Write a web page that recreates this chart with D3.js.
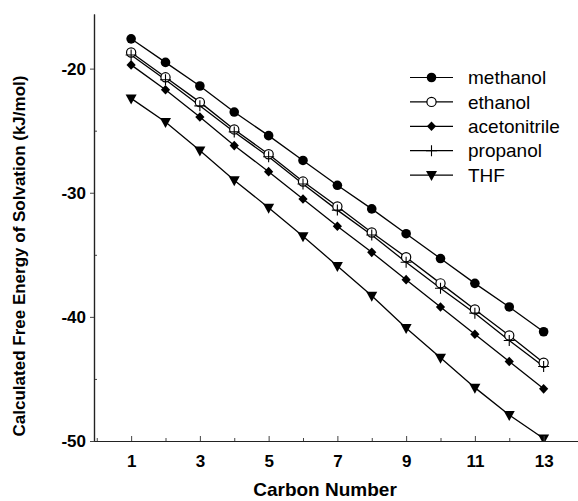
<!DOCTYPE html>
<html>
<head>
<meta charset="utf-8">
<script src="https://cdn.jsdelivr.net/npm/d3@7"></script>
<style>
  body { margin: 0; background: #fff; }
  svg { display: block; font-family: "Liberation Sans", Arial, sans-serif; }
</style>
</head>
<body>
<svg id="chart" width="578" height="501"></svg>
<script>
// carbon number on x
const carbons = [1, 2, 3, 4, 5, 6, 7, 8, 9, 10, 11, 12, 13];

// free energy of solvation (kJ/mol)
const methanol     = [-17.6, -19.5, -21.4, -23.5, -25.4, -27.4, -29.4, -31.3, -33.3, -35.3, -37.3, -39.2, -41.2];
const ethanol      = [-18.7, -20.7, -22.7, -24.9, -26.9, -29.1, -31.1, -33.2, -35.2, -37.3, -39.4, -41.5, -43.7];
const acetonitrile = [-19.7, -21.7, -23.9, -26.2, -28.3, -30.5, -32.7, -34.8, -37.0, -39.2, -41.4, -43.6, -45.8];
const propanol     = [-18.9, -20.9, -23.0, -25.1, -27.1, -29.3, -31.4, -33.4, -35.6, -37.7, -39.7, -41.9, -44.0];
const thf          = [-22.4, -24.3, -26.6, -29.0, -31.2, -33.5, -35.9, -38.3, -40.9, -43.3, -45.7, -47.9, -49.8];

const seriesNames = ['methanol', 'ethanol', 'acetonitrile', 'propanol', 'THF'];
const seriesValues = [methanol, ethanol, acetonitrile, propanol, thf];
const markerKinds = ['dot', 'ring', 'diamond', 'plus', 'tri'];

const xMajorTicks = [1, 3, 5, 7, 9, 11, 13];
const xMinorTicks = [0, 2, 4, 6, 8, 10, 12, 14];
const yMajorTicks = [-20, -30, -40, -50];
const yMinorTicks = [-25, -35, -45];

const svg = d3.select('#chart');

const margin = { left: 94, right: 0, top: 14, bottom: 60 };
const width = 578, height = 501;
const axisY = 441;

const x = d3.scaleLinear()
  .domain([-0.08, 14])
  .range([margin.left, width - margin.right]);

const y = d3.scaleLinear()
  .domain([-50, -15.6])
  .range([axisY, margin.top]);

svg.append('defs').append('clipPath').attr('id', 'plot-clip')
  .append('rect')
  .attr('x', margin.left).attr('y', 0)
  .attr('width', width - margin.left).attr('height', axisY);

// marker drawing
function marker(sel, kind) {
  if (kind === 'dot') {
    sel.append('circle').attr('r', 4.8).attr('fill', '#000');
  } else if (kind === 'ring') {
    sel.append('circle').attr('r', 4.6).attr('fill', '#fff')
      .attr('stroke', '#000').attr('stroke-width', 1.2);
  } else if (kind === 'diamond') {
    sel.append('path').attr('d', 'M0,-4.8L4.6,0L0,4.8L-4.6,0Z').attr('fill', '#000');
  } else if (kind === 'plus') {
    sel.append('path').attr('d', 'M-5.5,0H5.5M0,-5.5V5.5')
      .attr('stroke', '#000').attr('stroke-width', 1.1).attr('fill', 'none');
  } else if (kind === 'tri') {
    sel.append('path').attr('d', 'M-5.5,-4L5.5,-4L0,6Z').attr('fill', '#000');
  }
}

const line = d3.line()
  .x((d, i) => x(carbons[i]))
  .y(d => y(d));

const plot = svg.append('g').attr('clip-path', 'url(#plot-clip)');

seriesValues.forEach((vals, si) => {
  plot.append('path')
    .datum(vals)
    .attr('fill', 'none')
    .attr('stroke', '#000')
    .attr('stroke-width', 1.3)
    .attr('d', line);
});

seriesValues.forEach((vals, si) => {
  plot.append('g').selectAll('g').data(vals).enter().append('g')
    .attr('transform', (d, i) => `translate(${x(carbons[i])},${y(d)})`)
    .each(function () { marker(d3.select(this), markerKinds[si]); });
});

// axes
const xAxis = d3.axisBottom(x)
  .tickValues(xMajorTicks)
  .tickSizeInner(-5)
  .tickSizeOuter(0)
  .tickPadding(14)
  .tickFormat(d => String(d));

const xMinor = d3.axisBottom(x)
  .tickValues(xMinorTicks)
  .tickSizeInner(-3)
  .tickSizeOuter(0)
  .tickFormat('');

const yAxis = d3.axisLeft(y)
  .tickValues(yMajorTicks)
  .tickSizeInner(4)
  .tickSizeOuter(0)
  .tickPadding(4)
  .tickFormat(d => String(d));

const yMinor = d3.axisLeft(y)
  .tickValues(yMinorTicks)
  .tickSizeInner(-3)
  .tickSizeOuter(0)
  .tickFormat('');

function styleAxis(g) {
  g.attr('font-family', '"Liberation Sans", Arial, sans-serif')
    .attr('font-size', 17)
    .attr('font-weight', 'bold');
  g.select('.domain').attr('stroke', '#222').attr('stroke-width', 1.2);
  g.selectAll('.tick line').attr('stroke', '#444').attr('stroke-width', 1);
  g.selectAll('.tick text').attr('fill', '#000');
}

svg.append('g').attr('transform', `translate(0,${axisY})`).call(xMinor).call(styleAxis);
svg.append('g').attr('transform', `translate(0,${axisY})`).call(xAxis).call(styleAxis);
svg.append('g').attr('transform', `translate(${margin.left},0)`).call(yMinor).call(styleAxis);
svg.append('g').attr('transform', `translate(${margin.left},0)`).call(yAxis).call(styleAxis);

// axis titles
svg.append('text')
  .attr('x', 325)
  .attr('y', 496)
  .attr('text-anchor', 'middle')
  .attr('font-size', 19)
  .attr('font-weight', 'bold')
  .text('Carbon Number');

svg.append('text')
  .attr('transform', 'translate(25,256) rotate(-90)')
  .attr('text-anchor', 'middle')
  .attr('font-size', 17)
  .attr('font-weight', 'bold')
  .text('Calculated Free Energy of Solvation (kJ/mol)');

// legend
const legend = svg.append('g');
const legendTop = 77.5, legendStep = 24.4;

seriesNames.forEach((name, i) => {
  const row = legend.append('g')
    .attr('transform', `translate(0,${legendTop + i * legendStep})`);
  row.append('line')
    .attr('x1', 410).attr('x2', 453)
    .attr('stroke', '#000').attr('stroke-width', 1.2);
  marker(row.append('g').attr('transform', 'translate(431.5,0)'), markerKinds[i]);
  row.append('text')
    .attr('x', 468)
    .attr('dy', '0.35em')
    .attr('font-size', 19)
    .text(name);
});
</script>
</body>
</html>
